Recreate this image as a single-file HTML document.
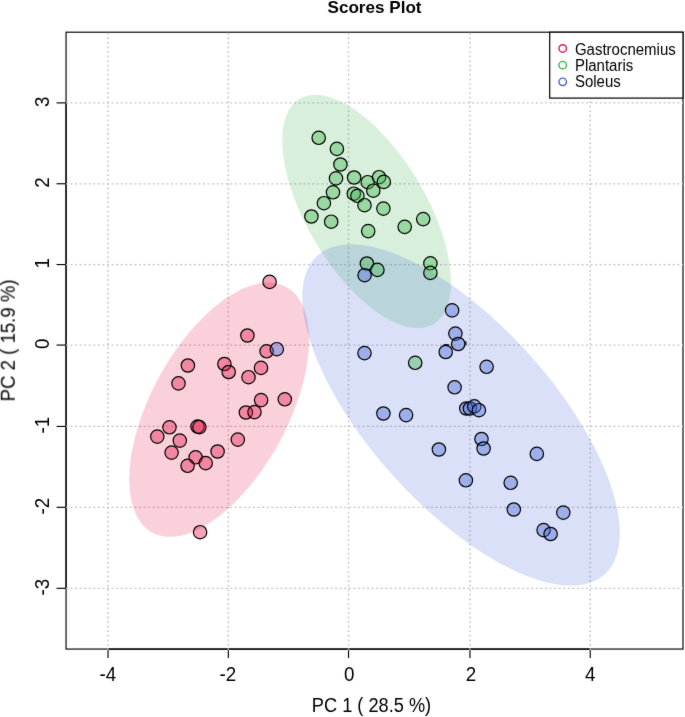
<!DOCTYPE html>
<html><head><meta charset="utf-8"><style>
html,body{margin:0;padding:0;background:#fff;}
svg{display:block;will-change:transform;}
text{font-family:"Liberation Sans",sans-serif;}
</style></head><body>
<svg width="685" height="717" viewBox="0 0 685 717">
<defs><filter id="bl" x="0" y="0" width="685" height="717" filterUnits="userSpaceOnUse" color-interpolation-filters="sRGB"><feConvolveMatrix order="3" kernelMatrix="0.00524 0.06192 0.00524 0.06192 0.73137 0.06192 0.00524 0.06192 0.00524" edgeMode="duplicate" preserveAlpha="true"/></filter></defs>
<g filter="url(#bl)">
<rect x="0" y="0" width="685" height="717" fill="#fff"/>
<rect x="66.05" y="32.2" width="616.95" height="616.8499999999999" fill="none" stroke="#000" stroke-width="1.15"/>
<g stroke="#000" stroke-width="1.15"><line x1="108.04" y1="649.05" x2="590.22" y2="649.05"/><line x1="108.04" y1="649.05" x2="108.04" y2="658.05"/><line x1="228.34" y1="649.05" x2="228.34" y2="658.05"/><line x1="348.53" y1="649.05" x2="348.53" y2="658.05"/><line x1="469.96" y1="649.05" x2="469.96" y2="658.05"/><line x1="590.22" y1="649.05" x2="590.22" y2="658.05"/><line x1="66.05" y1="588.32" x2="66.05" y2="102.89"/><line x1="66.05" y1="588.32" x2="56.55" y2="588.32"/><line x1="66.05" y1="507.33" x2="56.55" y2="507.33"/><line x1="66.05" y1="426.45" x2="56.55" y2="426.45"/><line x1="66.05" y1="345.07" x2="56.55" y2="345.07"/><line x1="66.05" y1="264.55" x2="56.55" y2="264.55"/><line x1="66.05" y1="183.76" x2="56.55" y2="183.76"/><line x1="66.05" y1="102.89" x2="56.55" y2="102.89"/></g>
<g stroke="#c6c6c6" stroke-width="1.5" stroke-dasharray="1.8 2.7613" stroke-dashoffset="0" fill="none"><line x1="108.04" y1="650.34" x2="108.04" y2="32.20"/><line x1="228.34" y1="650.34" x2="228.34" y2="32.20"/><line x1="348.53" y1="650.34" x2="348.53" y2="32.20"/><line x1="469.96" y1="650.34" x2="469.96" y2="32.20"/><line x1="590.22" y1="650.34" x2="590.22" y2="32.20"/></g>
<g stroke="#c6c6c6" stroke-width="1.25" stroke-dasharray="2.1 2.4624" stroke-dashoffset="0" fill="none"><line x1="65.91" y1="588.32" x2="683.00" y2="588.32"/><line x1="65.91" y1="507.33" x2="683.00" y2="507.33"/><line x1="65.91" y1="426.45" x2="683.00" y2="426.45"/><line x1="65.91" y1="345.07" x2="683.00" y2="345.07"/><line x1="65.91" y1="264.55" x2="683.00" y2="264.55"/><line x1="65.91" y1="183.76" x2="683.00" y2="183.76"/><line x1="65.91" y1="102.89" x2="683.00" y2="102.89"/></g>
<path d="M309.06,340.19 L308.88,347.01 L308.35,354.08 L307.47,361.37 L306.24,368.85 L304.66,376.49 L302.75,384.26 L300.50,392.13 L297.94,400.07 L295.06,408.05 L291.89,416.03 L288.43,423.99 L284.69,431.90 L280.69,439.72 L276.46,447.42 L271.99,454.96 L267.32,462.34 L262.46,469.50 L257.42,476.43 L252.24,483.09 L246.92,489.47 L241.50,495.53 L235.99,501.25 L230.41,506.61 L224.78,511.59 L219.14,516.16 L213.49,520.32 L207.87,524.04 L202.29,527.31 L196.77,530.11 L191.35,532.44 L186.03,534.28 L180.85,535.64 L175.81,536.49 L170.95,536.85 L166.28,536.70 L161.81,536.06 L157.58,534.91 L153.58,533.27 L149.85,531.14 L146.38,528.54 L143.21,525.46 L140.33,521.93 L137.77,517.95 L135.52,513.55 L133.61,508.74 L132.03,503.54 L130.80,497.96 L129.92,492.04 L129.39,485.80 L129.21,479.25 L129.39,472.43 L129.92,465.36 L130.80,458.07 L132.03,450.59 L133.61,442.95 L135.52,435.18 L137.77,427.31 L140.33,419.37 L143.21,411.39 L146.38,403.41 L149.85,395.45 L153.58,387.54 L157.58,379.72 L161.81,372.02 L166.28,364.48 L170.95,357.10 L175.81,349.94 L180.85,343.01 L186.03,336.35 L191.35,329.97 L196.77,323.91 L202.29,318.19 L207.87,312.83 L213.49,307.85 L219.14,303.28 L224.78,299.12 L230.41,295.40 L235.99,292.13 L241.50,289.33 L246.92,287.00 L252.24,285.16 L257.42,283.80 L262.46,282.95 L267.32,282.59 L271.99,282.74 L276.46,283.38 L280.69,284.53 L284.69,286.17 L288.43,288.30 L291.89,290.90 L295.06,293.98 L297.94,297.51 L300.50,301.49 L302.75,305.89 L304.66,310.70 L306.24,315.90 L307.47,321.48 L308.35,327.40 L308.88,333.64 Z" fill="#e6194B" fill-opacity="0.2" stroke="none"/>
<path d="M450.98,282.19 L450.81,287.87 L450.31,293.25 L449.48,298.30 L448.33,303.02 L446.85,307.37 L445.05,311.34 L442.95,314.92 L440.54,318.09 L437.84,320.84 L434.86,323.15 L431.61,325.03 L428.11,326.46 L424.36,327.43 L420.38,327.95 L416.20,328.00 L411.81,327.60 L407.25,326.74 L402.53,325.42 L397.66,323.65 L392.67,321.44 L387.58,318.80 L382.41,315.73 L377.18,312.25 L371.90,308.37 L366.60,304.11 L361.30,299.48 L356.02,294.51 L350.79,289.21 L345.62,283.60 L340.53,277.70 L335.54,271.55 L330.67,265.16 L325.95,258.55 L321.39,251.76 L317.00,244.81 L312.82,237.73 L308.84,230.55 L305.09,223.28 L301.59,215.98 L298.34,208.65 L295.36,201.34 L292.66,194.06 L290.25,186.86 L288.15,179.75 L286.35,172.76 L284.87,165.93 L283.72,159.28 L282.89,152.83 L282.39,146.62 L282.22,140.66 L282.39,134.98 L282.89,129.60 L283.72,124.54 L284.87,119.83 L286.35,115.48 L288.15,111.51 L290.25,107.93 L292.66,104.76 L295.36,102.01 L298.34,99.69 L301.59,97.82 L305.09,96.39 L308.84,95.42 L312.82,94.90 L317.00,94.84 L321.39,95.25 L325.95,96.11 L330.67,97.43 L335.54,99.20 L340.53,101.41 L345.62,104.05 L350.79,107.12 L356.02,110.60 L361.30,114.48 L366.60,118.74 L371.90,123.37 L377.18,128.34 L382.41,133.64 L387.58,139.25 L392.67,145.14 L397.66,151.30 L402.53,157.69 L407.25,164.30 L411.81,171.09 L416.20,178.04 L420.38,185.12 L424.36,192.30 L428.11,199.56 L431.61,206.87 L434.86,214.20 L437.84,221.51 L440.54,228.79 L442.95,235.99 L445.05,243.10 L446.85,250.09 L448.33,256.92 L449.48,263.57 L450.31,270.02 L450.81,276.23 Z" fill="#3cb44b" fill-opacity="0.2" stroke="none"/>
<path d="M619.82,533.12 L619.51,540.62 L618.57,547.62 L617.01,554.10 L614.84,560.03 L612.05,565.39 L608.67,570.16 L604.71,574.31 L600.18,577.83 L595.11,580.72 L589.50,582.94 L583.39,584.51 L576.79,585.40 L569.74,585.62 L562.25,585.17 L554.37,584.05 L546.12,582.26 L537.54,579.81 L528.65,576.71 L519.49,572.97 L510.11,568.61 L500.53,563.64 L490.80,558.08 L480.94,551.96 L471.01,545.30 L461.04,538.12 L451.07,530.46 L441.14,522.34 L431.29,513.80 L421.56,504.87 L411.98,495.58 L402.59,485.98 L393.44,476.09 L384.55,465.96 L375.97,455.64 L367.72,445.15 L359.83,434.54 L352.35,423.86 L345.30,413.14 L338.70,402.42 L332.59,391.76 L326.98,381.19 L321.90,370.75 L317.38,360.49 L313.41,350.44 L310.04,340.65 L307.25,331.14 L305.08,321.97 L303.52,313.17 L302.58,304.77 L302.26,296.80 L302.58,289.30 L303.52,282.30 L305.08,275.82 L307.25,269.89 L310.04,264.53 L313.41,259.76 L317.38,255.61 L321.90,252.09 L326.98,249.20 L332.59,246.98 L338.70,245.41 L345.30,244.52 L352.35,244.30 L359.83,244.75 L367.72,245.87 L375.97,247.66 L384.55,250.11 L393.44,253.21 L402.59,256.95 L411.98,261.31 L421.56,266.28 L431.29,271.84 L441.14,277.96 L451.07,284.62 L461.04,291.80 L471.01,299.46 L480.94,307.58 L490.80,316.12 L500.53,325.05 L510.11,334.34 L519.49,343.94 L528.65,353.83 L537.54,363.96 L546.12,374.28 L554.37,384.77 L562.25,395.38 L569.74,406.06 L576.79,416.78 L583.39,427.50 L589.50,438.16 L595.11,448.73 L600.18,459.17 L604.71,469.43 L608.67,479.48 L612.05,489.27 L614.84,498.78 L617.01,507.95 L618.57,516.75 L619.51,525.15 Z" fill="#4363d8" fill-opacity="0.2" stroke="none"/>
<g stroke="#000" stroke-width="1.2"><circle cx="269.60" cy="281.90" r="6.7" fill="#e6194B" fill-opacity="0.4"/><circle cx="247.40" cy="335.50" r="6.7" fill="#e6194B" fill-opacity="0.4"/><circle cx="266.60" cy="351.30" r="6.7" fill="#e6194B" fill-opacity="0.4"/><circle cx="187.90" cy="365.50" r="6.7" fill="#e6194B" fill-opacity="0.4"/><circle cx="224.40" cy="364.00" r="6.7" fill="#e6194B" fill-opacity="0.4"/><circle cx="228.70" cy="372.00" r="6.7" fill="#e6194B" fill-opacity="0.4"/><circle cx="261.00" cy="367.90" r="6.7" fill="#e6194B" fill-opacity="0.4"/><circle cx="248.50" cy="377.20" r="6.7" fill="#e6194B" fill-opacity="0.4"/><circle cx="178.50" cy="383.40" r="6.7" fill="#e6194B" fill-opacity="0.4"/><circle cx="261.10" cy="400.10" r="6.7" fill="#e6194B" fill-opacity="0.4"/><circle cx="284.80" cy="399.30" r="6.7" fill="#e6194B" fill-opacity="0.4"/><circle cx="245.90" cy="412.50" r="6.7" fill="#e6194B" fill-opacity="0.4"/><circle cx="254.50" cy="412.10" r="6.7" fill="#e6194B" fill-opacity="0.4"/><circle cx="169.50" cy="427.30" r="6.7" fill="#e6194B" fill-opacity="0.4"/><circle cx="157.30" cy="436.60" r="6.7" fill="#e6194B" fill-opacity="0.4"/><circle cx="197.50" cy="426.60" r="6.7" fill="#e6194B" fill-opacity="0.4"/><circle cx="199.40" cy="427.10" r="6.7" fill="#e6194B" fill-opacity="0.4"/><circle cx="179.80" cy="440.60" r="6.7" fill="#e6194B" fill-opacity="0.4"/><circle cx="171.60" cy="452.60" r="6.7" fill="#e6194B" fill-opacity="0.4"/><circle cx="195.60" cy="457.30" r="6.7" fill="#e6194B" fill-opacity="0.4"/><circle cx="187.60" cy="465.80" r="6.7" fill="#e6194B" fill-opacity="0.4"/><circle cx="205.70" cy="463.10" r="6.7" fill="#e6194B" fill-opacity="0.4"/><circle cx="217.60" cy="451.50" r="6.7" fill="#e6194B" fill-opacity="0.4"/><circle cx="237.80" cy="439.60" r="6.7" fill="#e6194B" fill-opacity="0.4"/><circle cx="200.10" cy="532.20" r="6.7" fill="#e6194B" fill-opacity="0.4"/><circle cx="318.70" cy="137.80" r="6.7" fill="#3cb44b" fill-opacity="0.4"/><circle cx="336.90" cy="148.90" r="6.7" fill="#3cb44b" fill-opacity="0.4"/><circle cx="340.40" cy="164.50" r="6.7" fill="#3cb44b" fill-opacity="0.4"/><circle cx="336.00" cy="178.40" r="6.7" fill="#3cb44b" fill-opacity="0.4"/><circle cx="333.00" cy="192.30" r="6.7" fill="#3cb44b" fill-opacity="0.4"/><circle cx="323.90" cy="203.20" r="6.7" fill="#3cb44b" fill-opacity="0.4"/><circle cx="311.40" cy="216.50" r="6.7" fill="#3cb44b" fill-opacity="0.4"/><circle cx="331.20" cy="221.70" r="6.7" fill="#3cb44b" fill-opacity="0.4"/><circle cx="354.10" cy="177.50" r="6.7" fill="#3cb44b" fill-opacity="0.4"/><circle cx="367.70" cy="182.20" r="6.7" fill="#3cb44b" fill-opacity="0.4"/><circle cx="379.10" cy="177.20" r="6.7" fill="#3cb44b" fill-opacity="0.4"/><circle cx="383.80" cy="181.90" r="6.7" fill="#3cb44b" fill-opacity="0.4"/><circle cx="373.30" cy="190.70" r="6.7" fill="#3cb44b" fill-opacity="0.4"/><circle cx="353.80" cy="193.70" r="6.7" fill="#3cb44b" fill-opacity="0.4"/><circle cx="357.40" cy="195.80" r="6.7" fill="#3cb44b" fill-opacity="0.4"/><circle cx="364.50" cy="205.20" r="6.7" fill="#3cb44b" fill-opacity="0.4"/><circle cx="383.40" cy="208.60" r="6.7" fill="#3cb44b" fill-opacity="0.4"/><circle cx="368.20" cy="231.10" r="6.7" fill="#3cb44b" fill-opacity="0.4"/><circle cx="404.70" cy="226.90" r="6.7" fill="#3cb44b" fill-opacity="0.4"/><circle cx="423.20" cy="219.10" r="6.7" fill="#3cb44b" fill-opacity="0.4"/><circle cx="366.90" cy="263.50" r="6.7" fill="#3cb44b" fill-opacity="0.4"/><circle cx="377.40" cy="269.90" r="6.7" fill="#3cb44b" fill-opacity="0.4"/><circle cx="430.40" cy="263.30" r="6.7" fill="#3cb44b" fill-opacity="0.4"/><circle cx="430.40" cy="272.90" r="6.7" fill="#3cb44b" fill-opacity="0.4"/><circle cx="415.20" cy="362.80" r="6.7" fill="#3cb44b" fill-opacity="0.4"/><circle cx="276.80" cy="349.20" r="6.7" fill="#4363d8" fill-opacity="0.4"/><circle cx="364.60" cy="275.20" r="6.7" fill="#4363d8" fill-opacity="0.4"/><circle cx="452.10" cy="310.40" r="6.7" fill="#4363d8" fill-opacity="0.4"/><circle cx="455.40" cy="333.60" r="6.7" fill="#4363d8" fill-opacity="0.4"/><circle cx="458.20" cy="344.00" r="6.7" fill="#4363d8" fill-opacity="0.4"/><circle cx="445.70" cy="352.00" r="6.7" fill="#4363d8" fill-opacity="0.4"/><circle cx="486.60" cy="366.80" r="6.7" fill="#4363d8" fill-opacity="0.4"/><circle cx="364.50" cy="353.10" r="6.7" fill="#4363d8" fill-opacity="0.4"/><circle cx="383.40" cy="413.50" r="6.7" fill="#4363d8" fill-opacity="0.4"/><circle cx="406.10" cy="415.10" r="6.7" fill="#4363d8" fill-opacity="0.4"/><circle cx="454.60" cy="387.30" r="6.7" fill="#4363d8" fill-opacity="0.4"/><circle cx="466.30" cy="408.50" r="6.7" fill="#4363d8" fill-opacity="0.4"/><circle cx="469.90" cy="408.50" r="6.7" fill="#4363d8" fill-opacity="0.4"/><circle cx="474.30" cy="406.40" r="6.7" fill="#4363d8" fill-opacity="0.4"/><circle cx="478.90" cy="410.20" r="6.7" fill="#4363d8" fill-opacity="0.4"/><circle cx="438.90" cy="449.50" r="6.7" fill="#4363d8" fill-opacity="0.4"/><circle cx="481.50" cy="439.00" r="6.7" fill="#4363d8" fill-opacity="0.4"/><circle cx="483.60" cy="448.50" r="6.7" fill="#4363d8" fill-opacity="0.4"/><circle cx="465.90" cy="480.30" r="6.7" fill="#4363d8" fill-opacity="0.4"/><circle cx="536.80" cy="453.90" r="6.7" fill="#4363d8" fill-opacity="0.4"/><circle cx="510.70" cy="482.80" r="6.7" fill="#4363d8" fill-opacity="0.4"/><circle cx="513.80" cy="509.50" r="6.7" fill="#4363d8" fill-opacity="0.4"/><circle cx="563.30" cy="512.60" r="6.7" fill="#4363d8" fill-opacity="0.4"/><circle cx="543.60" cy="530.10" r="6.7" fill="#4363d8" fill-opacity="0.4"/><circle cx="550.60" cy="534.00" r="6.7" fill="#4363d8" fill-opacity="0.4"/></g>
<g font-size="18.8" fill="#000"><text transform="translate(107.95,680.8) scale(1,1.08)" text-anchor="middle">-4</text><text transform="translate(227.90,680.8) scale(1,1.08)" text-anchor="middle">-2</text><text transform="translate(349.25,680.8) scale(1,1.08)" text-anchor="middle">0</text><text transform="translate(470.90,680.8) scale(1,1.08)" text-anchor="middle">2</text><text transform="translate(590.20,680.8) scale(1,1.08)" text-anchor="middle">4</text><text transform="translate(48.7,587.12) rotate(-90) scale(1,1.08)" text-anchor="middle">-3</text><text transform="translate(48.7,506.13) rotate(-90) scale(1,1.08)" text-anchor="middle">-2</text><text transform="translate(48.7,425.25) rotate(-90) scale(1,1.08)" text-anchor="middle">-1</text><text transform="translate(48.7,343.87) rotate(-90) scale(1,1.08)" text-anchor="middle">0</text><text transform="translate(48.7,263.35) rotate(-90) scale(1,1.08)" text-anchor="middle">1</text><text transform="translate(48.7,182.56) rotate(-90) scale(1,1.08)" text-anchor="middle">2</text><text transform="translate(48.7,101.69) rotate(-90) scale(1,1.08)" text-anchor="middle">3</text></g>
<text transform="translate(371.5,711.6) scale(0.985,1.06)" text-anchor="middle" font-size="18.5">PC 1 ( 28.5 %)</text>
<text transform="translate(14.8,340.4) rotate(-90) scale(1,1.06)" text-anchor="middle" font-size="18.6">PC 2 ( 15.9 %)</text>
<text x="374.52" y="12.85" text-anchor="middle" font-size="17.1" font-weight="bold">Scores Plot</text>
<line x1="443.6" y1="344.75" x2="448.9" y2="344.75" stroke="#000" stroke-width="1.2"/><line x1="465.9" y1="341.2" x2="465.9" y2="345.6" stroke="#000" stroke-width="1.2"/>
<rect x="549.7" y="32.2" width="133.30" height="65.90" fill="#fff" stroke="#000" stroke-width="1.2"/>
<circle cx="562.7" cy="48.45" r="3.75" fill="none" stroke="#e6194B" stroke-width="1.4"/><text transform="translate(574.9,54.50) scale(1,1.08)" font-size="15.0">Gastrocnemius</text>
<circle cx="562.7" cy="65.15" r="3.75" fill="none" stroke="#3cb44b" stroke-width="1.4"/><text transform="translate(574.9,70.75) scale(1,1.08)" font-size="15.0">Plantaris</text>
<circle cx="562.7" cy="81.85" r="3.75" fill="none" stroke="#4363d8" stroke-width="1.4"/><text transform="translate(574.9,87.15) scale(1,1.08)" font-size="15.0">Soleus</text>
</g></svg></body></html>
